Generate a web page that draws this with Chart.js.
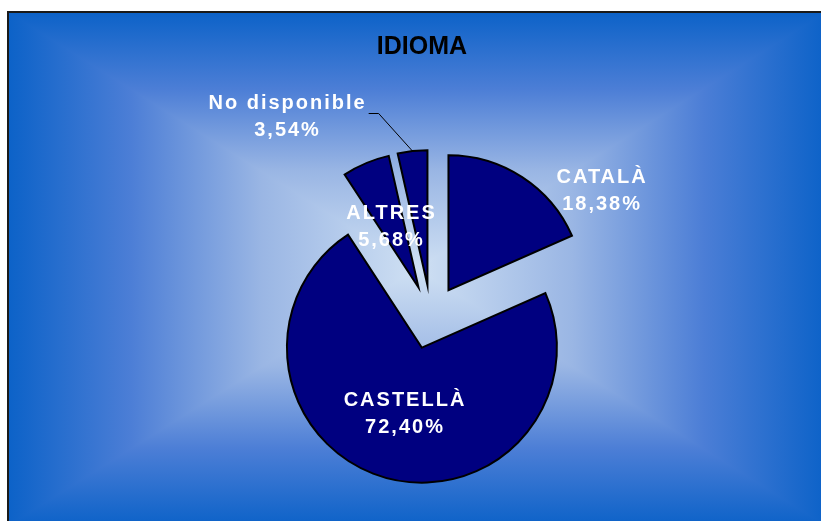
<!DOCTYPE html>
<html>
<head>
<meta charset="utf-8">
<script src="https://cdn.jsdelivr.net/npm/chart.js@4.4.0/dist/chart.umd.min.js"></script>
<style>
html, body { margin: 0; padding: 0; background: #fff; }
#wrap { width: 821px; height: 521px; }
</style>
</head>
<body>
<div id="wrap"><canvas id="chart" width="821" height="521"></canvas></div>
<script>
const title = 'IDIOMA';
const labels = ['CATALÀ', 'CASTELLÀ', 'ALTRES', 'No disponible'];
const values = [18.38, 72.40, 5.68, 3.54];
const pctLabels = ['18,38%', '72,40%', '5,68%', '3,54%'];

// where each label block sits, relative to the pie centre, in radii
const labelPos = [[1.26, -0.95], [-0.20, 0.70], [-0.30, -0.68], [-1.07, -1.50]];
const hasLeader = [false, false, false, true];

const FONT = '"Liberation Sans", Arial, sans-serif';

// rectangular "from centre" gradient like the office chart fill
const panelPlugin = {
  id: 'panel',
  beforeDraw(chart) {
    const ctx = chart.ctx;
    const L = 8, T = 12, R = 826, B = 526, cx = 417, cy = 269;
    const stops = [[0, '#0c62c8'], [0.3, '#4c7ed6'], [0.62, '#9ab6e4'], [1, '#cfe0f3']];
    const grad = (x0, y0) => {
      const g = ctx.createLinearGradient(x0, y0, cx, cy);
      stops.forEach(s => g.addColorStop(s[0], s[1]));
      return g;
    };
    ctx.save();
    ctx.fillStyle = '#fff';
    ctx.fillRect(0, 0, chart.width, chart.height);
    // top and bottom halves first, then the side wedges over them
    ctx.fillStyle = grad(cx, T);
    ctx.fillRect(L, T, R - L, cy - T);
    ctx.fillStyle = grad(cx, B);
    ctx.fillRect(L, cy, R - L, B - cy);
    const wedge = (a, b, g) => {
      ctx.beginPath();
      ctx.moveTo(a[0], a[1]);
      ctx.lineTo(b[0], b[1]);
      ctx.lineTo(cx, cy);
      ctx.closePath();
      ctx.fillStyle = g;
      ctx.fill();
    };
    wedge([L, B], [L, T], grad(L, cy));
    wedge([R, T], [R, B], grad(R, cy));
    ctx.strokeStyle = '#1a1a1a';
    ctx.lineWidth = 2;
    ctx.strokeRect(L, T, R - L, B - T);

    ctx.fillStyle = '#000';
    ctx.font = 'bold 25px ' + FONT;
    ctx.textAlign = 'center';
    ctx.textBaseline = 'alphabetic';
    ctx.fillText(title, 422, 54);
    ctx.restore();
  }
};

// draws plain exploded sectors (the built-in offset also grows the big slice)
const explodePlugin = {
  id: 'explode',
  beforeDatasetDraw(chart, args) {
    const ctx = chart.ctx;
    args.meta.data.forEach(arc => {
      const p = arc.getProps(['x', 'y', 'startAngle', 'endAngle', 'outerRadius'], true);
      const o = arc.options;
      const mid = (p.startAngle + p.endAngle) / 2;
      const ox = p.x + Math.cos(mid) * o.offset;
      const oy = p.y + Math.sin(mid) * o.offset;
      ctx.save();
      ctx.beginPath();
      ctx.moveTo(ox, oy);
      ctx.arc(ox, oy, p.outerRadius, p.startAngle, p.endAngle);
      ctx.closePath();
      ctx.fillStyle = o.backgroundColor;
      ctx.fill();
      ctx.lineWidth = o.borderWidth;
      ctx.strokeStyle = o.borderColor;
      ctx.lineJoin = 'miter';
      ctx.stroke();
      ctx.restore();
    });
    return false;
  },
  afterDatasetsDraw(chart) {
    const ctx = chart.ctx;
    const meta = chart.getDatasetMeta(0);
    meta.data.forEach((arc, i) => {
      const p = arc.getProps(['x', 'y', 'startAngle', 'endAngle', 'outerRadius'], true);
      const r = p.outerRadius;
      const px = p.x + labelPos[i][0] * r;
      const py = p.y + labelPos[i][1] * r;
      ctx.save();
      ctx.font = 'bold 20px ' + FONT;
      ctx.letterSpacing = '2px';
      ctx.textAlign = 'center';
      ctx.textBaseline = 'alphabetic';
      ctx.fillStyle = '#fff';
      ctx.fillText(labels[i], px + 1, py - 6);
      ctx.fillText(pctLabels[i], px + 1, py + 21);
      if (hasLeader[i]) {
        const w = ctx.measureText(labels[i]).width;
        const mid = (p.startAngle + p.endAngle) / 2;
        const off = arc.options.offset;
        const ex = p.x + Math.cos(mid) * (off + r);
        const ey = p.y + Math.sin(mid) * (off + r);
        const sx = px + w / 2 + 3;
        const sy = py - 1;
        ctx.beginPath();
        ctx.moveTo(sx, sy);
        ctx.lineTo(sx + 10, sy);
        ctx.lineTo(ex, ey);
        ctx.strokeStyle = '#000';
        ctx.lineWidth = 1;
        ctx.stroke();
      }
      ctx.restore();
    });
  }
};

const ctx = document.getElementById('chart').getContext('2d');
new Chart(ctx, {
  type: 'pie',
  data: {
    labels: labels,
    datasets: [{
      data: values,
      backgroundColor: '#000080',
      borderColor: '#000',
      borderWidth: 2,
      offset: 32,
      hoverOffset: 0
    }]
  },
  options: {
    responsive: false,
    animation: false,
    events: [],
    layout: { padding: { top: 165, bottom: 52, left: 100, right: 59 } },
    plugins: {
      legend: { display: false },
      tooltip: { enabled: false },
      title: { display: false }
    }
  },
  plugins: [panelPlugin, explodePlugin]
});
</script>
</body>
</html>
